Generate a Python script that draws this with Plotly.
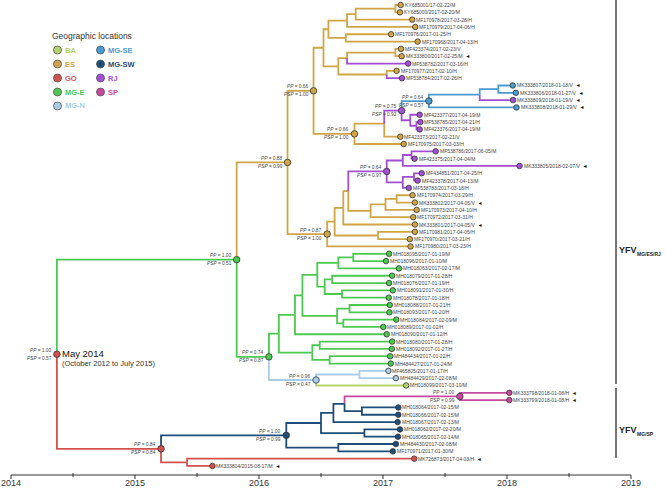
import plotly.graph_objects as go
import datetime as dt

W, H = 666, 488
FONT = "Liberation Sans, Arial, sans-serif"

LOC_COLORS = {"BA": "#B5D36A", "ES": "#CFA545", "GO": "#D2504E", "MG-E": "#4CC950",
              "MG-N": "#A9CDE7", "MG-SE": "#4A9BD0", "MG-SW": "#1E4D78",
              "RJ": "#A24FD4", "SP": "#C64A9E"}
legend_col1 = ["BA", "ES", "GO", "MG-E", "MG-N"]
legend_col2 = ["MG-SE", "MG-SW", "RJ", "SP"]

# ---------------- tips (top to bottom) ----------------
tip_labels = [
    "KY685001/17-02-22/M", "KY685000/2017-02-20/M", "MF170978/2017-03-28/H", "MF170979/2017-04-06/H",
    "MF170976/2017-01-25/H", "MF170968/2017-04-13/H", "MF423374/2017-02-23/V", "MK333800/2017-02-25/M",
    "MF538782/2017-03-16/H", "MF170977/2017-02-10/H", "MF538784/2017-02-26/H", "MK333807/2018-01-18/V",
    "MK333806/2018-01-27/V", "MK333809/2018-01-19/V", "MK333808/2018-01-29/V", "MF423377/2017-04-19/M",
    "MF538785/2017-04-21/H", "MF423376/2017-04-19/M", "MF423373/2017-02-21/V", "MF170975/2017-03-03/H",
    "MF538786/2017-06-05/M", "MF423375/2017-04-04/M", "MK333805/2018-02-07/V", "MF434851/2017-04-25/H",
    "MF423378/2017-04-13/M", "MF538783/2017-03-18/H", "MF170974/2017-03-29/H", "MK333802/2017-04-05/V",
    "MF170973/2017-04-10/H", "MF170972/2017-03-31/H", "MK333801/2017-04-05/V", "MF170981/2017-04-05/H",
    "MF170970/2017-03-21/H", "MF170980/2017-03-23/H",
    "MH018095/2017-01-19/M", "MH018096/2017-01-10/M", "MH018063/2017-02-17/M", "MH018079/2017-01-28/H",
    "MH018076/2017-01-19/H", "MH018091/2017-01-30/H", "MH018078/2017-01-18/H", "MH018088/2017-01-21/H",
    "MH018093/2017-01-20/H", "MH018084/2017-02-09/M", "MH018089/2017-01-02/H", "MH018090/2017-01-12/H",
    "MH018080/2017-01-28/H", "MH018092/2017-01-27/H", "MH484434/2017-01-22/H", "MH484427/2017-01-24/M",
    "MF465805/2017-01-17/H", "MH484429/2017-02-08/M", "MH018099/2017-03-10/M",
    "MK333798/2018-01-08/H", "MK333799/2018-01-08/H",
    "MH018064/2017-02-15/M", "MH018066/2017-02-15/M", "MH018067/2017-02-13/M", "MH018062/2017-02-20/M",
    "MH018065/2017-02-14/M", "MH484430/2017-02-08/M", "MF170971/2017-01-30/M",
    "MK726873/2017-04-03/H", "MK333804/2015-08-17/M",
]
tip_dates = [
    "2017-02-22", "2017-02-20", "2017-03-28", "2017-04-06", "2017-01-25", "2017-04-13", "2017-02-23",
    "2017-02-25", "2017-03-16", "2017-02-10", "2017-02-26", "2018-01-18", "2018-01-27", "2018-01-19",
    "2018-01-29", "2017-04-19", "2017-04-21", "2017-04-19", "2017-02-21", "2017-03-03", "2017-06-05",
    "2017-04-04", "2018-02-07", "2017-04-25", "2017-04-13", "2017-03-18", "2017-03-29", "2017-04-05",
    "2017-04-10", "2017-03-31", "2017-04-05", "2017-04-05", "2017-03-21", "2017-03-23",
    "2017-01-19", "2017-01-10", "2017-02-17", "2017-01-28", "2017-01-19", "2017-01-30", "2017-01-18",
    "2017-01-21", "2017-01-20", "2017-02-09", "2017-01-02", "2017-01-12", "2017-01-28", "2017-01-27",
    "2017-01-22", "2017-01-24", "2017-01-17", "2017-02-08", "2017-03-10", "2018-01-08", "2018-01-08",
    "2017-02-15", "2017-02-15", "2017-02-13", "2017-02-20", "2017-02-14", "2017-02-08", "2017-01-30",
    "2017-04-03", "2015-08-17",
]
tip_locs = (["ES"] * 8 + ["RJ", "ES", "RJ", "MG-SE", "MG-SE", "RJ", "MG-SE", "RJ", "RJ", "RJ", "ES", "ES"]
            + ["RJ"] * 6 + ["ES"] * 8 + ["MG-E"] * 16 + ["MG-N", "MG-N", "BA", "SP", "SP"]
            + ["MG-SW"] * 7 + ["GO", "GO"])
tip_new = [8, 12, 13, 14, 15, 23, 28, 31, 54, 55, 63, 64]  # 1-based tips marked with an arrowhead
tip_parent = [
    "E6", "E6", "E5", "E4", "E7", "E7", "E10", "E10", "E9", "E11", "E11", "S3", "S3", "S2", "S1",
    "R2", "R3", "R3", "E13", "E12", "R6", "R6", "R5", "R8", "R8", "R7", "E20", "E20", "E19", "E18",
    "E16", "E21", "E21", "E14",
    "G6", "G6", "G5", "G8", "G8", "G8b", "G8b", "G10", "G10", "G11", "G11", "G2", "G13", "G13",
    "G14", "G14", "N2", "N2", "N1", "P1", "P1", "W5", "W5", "W3", "W6", "W6", "W7", "W7", "O2", "O2",
]

# ---------------- internal nodes ----------------
node_ids = ["root", "A", "ESRJ", "E1", "E2", "E3", "E4", "E5", "E6", "E7", "E8", "E9", "E10", "E11",
            "E12", "E13", "R1", "S1", "S2", "S3", "R2", "R3", "E14", "E15", "E16", "E17", "R4", "R5",
            "R6", "R7", "R8", "E18", "E19", "E20", "E21",
            "G0", "G1", "G2", "G3", "G4", "G5", "G6", "G7", "G8", "G8b", "G9", "G10", "G11", "G12",
            "G13", "G14", "N1", "N2",
            "O1", "O2", "W1", "W2", "W3", "W4", "P1", "W5", "W6", "W7"]
node_parent = [None, "root", "A", "ESRJ", "E1", "E2", "E3", "E4", "E5", "E3", "E2", "E8", "E9", "E8",
               "E1", "E12", "E13", "R1", "S1", "S2", "R1", "R2", "ESRJ", "E14", "E15", "E16", "E17", "R4",
               "R5", "R4", "R7", "E17", "E18", "E19", "E15",
               "A", "G0", "G1", "G2", "G3", "G4", "G5", "G4", "G7", "G7", "G3", "G9", "G9", "G1",
               "G12", "G12", "G0", "N1",
               "root", "O1", "O1", "W1", "W2", "W3", "W4", "W4", "W2", "W1"]
node_years = [2014.37, 2015.82, 2016.23, 2016.44, 2016.52, 2016.56, 2016.71, 2016.78, 2017.10, 2016.70,
              2016.64, 2016.71, 2017.10, 2017.03, 2016.77, 2017.01, 2017.15, 2017.37, 2017.78, 2017.93,
              2017.22, 2017.27, 2016.55, 2016.61, 2016.68, 2016.72, 2017.03, 2017.16, 2017.23, 2017.16,
              2017.25, 2016.90, 2017.02, 2017.11, 2016.96,
              2016.08, 2016.16, 2016.29, 2016.35, 2016.47, 2016.64, 2016.76, 2016.53, 2016.59, 2016.67,
              2016.63, 2016.73, 2016.68, 2016.43, 2016.49, 2016.57, 2016.46, 2016.81,
              2015.21, 2015.42, 2016.22, 2016.50, 2016.60, 2016.69, 2017.62, 2016.83, 2016.85, 2016.64]
node_locs = (["GO", "MG-E"] + ["ES"] * 14 + ["RJ", "MG-SE", "MG-SE", "MG-SE", "RJ", "RJ"]
             + ["ES"] * 4 + ["RJ"] * 5 + ["ES"] * 4 + ["MG-E"] * 16 + ["MG-N", "MG-N"]
             + ["GO", "GO", "MG-SW", "MG-SW", "MG-SW", "MG-SW", "SP", "MG-SW", "MG-SW", "MG-SW"])
support_nodes = ["root", "A", "ESRJ", "E1", "E12", "R1", "S1", "E14", "R4", "G0", "N1", "O1", "W1", "P1"]
support_pp = ["1.00", "1.00", "0.88", "0.66", "0.66", "0.75", "0.64", "0.87", "0.64", "0.74", "0.96",
              "0.84", "1.00", "1.00"]
support_psp = ["0.57", "0.51", "0.99", "1.00", "1.00", "0.92", "0.57", "1.00", "0.97", "0.87", "0.47",
               "0.84", "0.99", "0.99"]

year_ticks = [2014, 2015, 2016, 2017, 2018, 2019]
half_ticks = [2014.5, 2015.5, 2016.5, 2017.5, 2018.5]


def dec_year(s):
    d = dt.date.fromisoformat(s)
    a, b = dt.date(d.year, 1, 1), dt.date(d.year + 1, 1, 1)
    return d.year + (d - a).days / (b - a).days


# ---------------- build tree ----------------
X, Y, LOC, PAR = {}, {}, {}, {}
children = {}
for i, lab in enumerate(tip_labels):
    k = f"t{i}"
    X[k] = dec_year(tip_dates[i]); Y[k] = i; LOC[k] = tip_locs[i]; PAR[k] = tip_parent[i]
    children.setdefault(tip_parent[i], []).append(k)
for nid, p, yr, lc in zip(node_ids, node_parent, node_years, node_locs):
    X[nid] = yr; LOC[nid] = lc; PAR[nid] = p
    if p is not None:
        children.setdefault(p, []).append(nid)


def get_y(k):
    if k not in Y:
        ys = [get_y(c) for c in children[k]]
        Y[k] = (min(ys) + max(ys)) / 2
    return Y[k]


get_y("root")

PX_PER_YEAR = 124.0
x_left = 2014 - 11 / PX_PER_YEAR
x_right = x_left + W / PX_PER_YEAR
ROW = 7.317
y_top = -5 / ROW
y_bot = (H - 5) / ROW

fig = go.Figure()

segs = {}
for k, p in PAR.items():
    if p is None:
        continue
    c = LOC_COLORS[LOC[k]]
    sx, sy = segs.setdefault(c, ([], []))
    sx += [X[p], X[p], X[k], None]
    sy += [Y[p], Y[k], Y[k], None]
for c, (sx, sy) in segs.items():
    fig.add_trace(go.Scatter(x=sx, y=sy, mode="lines", line=dict(color=c, width=1.8),
                             hoverinfo="skip", showlegend=False))

tk = [f"t{i}" for i in range(len(tip_labels))]
fig.add_trace(go.Scatter(x=[X[k] for k in tk], y=[Y[k] for k in tk], mode="markers",
                         marker=dict(size=5.5, color=[LOC_COLORS[LOC[k]] for k in tk],
                                     line=dict(color="#333333", width=0.8)),
                         hoverinfo="skip", showlegend=False))
fig.add_trace(go.Scatter(x=[X[k] for k in support_nodes], y=[Y[k] for k in support_nodes], mode="markers",
                         marker=dict(size=6.5, color=[LOC_COLORS[LOC[k]] for k in support_nodes],
                                     line=dict(color="#333333", width=0.8)),
                         hoverinfo="skip", showlegend=False))

ann = []
for i, k in enumerate(tk):
    txt = tip_labels[i]
    if (i + 1) in tip_new:
        txt += "\u2002<span style='color:#111111'>\u25C4</span>"
    ann.append(dict(x=X[k], y=Y[k], xref="x", yref="y", text=txt, showarrow=False,
                    xanchor="left", yanchor="middle", xshift=3, borderpad=0,
                    font=dict(family=FONT, size=5, color="#444444")))
for nid, pp, psp in zip(support_nodes, support_pp, support_psp):
    ann.append(dict(x=X[nid], y=Y[nid], xref="x", yref="y", text=f"<i>PP</i> = {pp}", showarrow=False,
                    xanchor="right", yanchor="middle", xshift=-4, yshift=4, borderpad=0,
                    font=dict(family=FONT, size=4.8, color="#444444")))
    ann.append(dict(x=X[nid], y=Y[nid], xref="x", yref="y", text=f"<i>PSP</i> = {psp}", showarrow=False,
                    xanchor="right", yanchor="middle", xshift=-4, yshift=-4, borderpad=0,
                    font=dict(family=FONT, size=4.8, color="#444444")))
ann.append(dict(x=X["root"], y=Y["root"], xref="x", yref="y", text="May 2014", showarrow=False,
                xanchor="left", yanchor="middle", xshift=4, yshift=1, borderpad=0,
                font=dict(family=FONT, size=9.5, color="#111111")))
ann.append(dict(x=X["root"], y=Y["root"], xref="x", yref="y", text="(October 2012 to July 2015)",
                showarrow=False, xanchor="left", yanchor="middle", xshift=4, yshift=-9, borderpad=0,
                font=dict(family=FONT, size=7.5, color="#333333")))

shapes = []
ax_y = 1 - 475 / H
shapes.append(dict(type="line", xref="x", yref="paper", x0=year_ticks[0], x1=year_ticks[-1],
                   y0=ax_y, y1=ax_y, line=dict(color="#333333", width=1)))
for t in year_ticks:
    shapes.append(dict(type="line", xref="x", yref="paper", x0=t, x1=t, y0=ax_y, y1=ax_y - 4 / H,
                       line=dict(color="#333333", width=1)))
    ann.append(dict(x=t, y=1 - 482.5 / H, xref="x", yref="paper", text=str(t), showarrow=False,
                    xanchor="center", yanchor="middle", borderpad=0,
                    font=dict(family=FONT, size=9, color="#333333")))
for t in half_ticks:
    shapes.append(dict(type="line", xref="x", yref="paper", x0=t, x1=t, y0=ax_y + 2 / H, y1=ax_y - 2 / H,
                       line=dict(color="#333333", width=1)))

for (ya, yb, sub, yl) in [(0, 384, "MG/ES/RJ", 250), (388, 458, "MG/SP", 430)]:
    shapes.append(dict(type="line", xref="paper", yref="paper", x0=616 / W, x1=616 / W,
                       y0=1 - ya / H, y1=1 - yb / H, line=dict(color="#777777", width=2)))
    ann.append(dict(x=618 / W, y=1 - yl / H, xref="paper", yref="paper", text="<b>YFV</b>",
                    showarrow=False, xanchor="left", yanchor="middle", borderpad=0,
                    font=dict(family=FONT, size=9, color="#222222")))
    ann.append(dict(x=635.5 / W, y=1 - (yl + 4) / H, xref="paper", yref="paper", text=f"<b>{sub}</b>",
                    showarrow=False, xanchor="left", yanchor="middle", borderpad=0,
                    font=dict(family=FONT, size=5, color="#222222")))

ann.append(dict(x=51 / W, y=1 - 36 / H, xref="paper", yref="paper", text="Geographic locations",
                showarrow=False, xanchor="left", yanchor="middle", borderpad=0,
                font=dict(family=FONT, size=8.5, color="#333333")))
for col, (cx, names) in enumerate([(57.5, legend_col1), (100.5, legend_col2)]):
    for r, nm in enumerate(names):
        cy = 50 + 14 * r
        shapes.append(dict(type="circle", xref="paper", yref="paper", xsizemode="pixel", ysizemode="pixel",
                           xanchor=cx / W, yanchor=1 - cy / H, x0=-4, x1=4, y0=-4, y1=4,
                           fillcolor=LOC_COLORS[nm], line=dict(color="#555555", width=0.8)))
        ann.append(dict(x=(cx + 6) / W, y=1 - cy / H, xref="paper", yref="paper", text=f"<b>{nm}</b>",
                        showarrow=False, xanchor="left", yanchor="middle", borderpad=0,
                        font=dict(family=FONT, size=7.5, color=LOC_COLORS[nm])))

fig.update_layout(
    width=W, height=H, margin=dict(l=0, r=0, t=0, b=0),
    paper_bgcolor="white", plot_bgcolor="white",
    xaxis=dict(range=[x_left, x_right], visible=False),
    yaxis=dict(range=[y_bot, y_top], visible=False),
    annotations=ann, shapes=shapes, showlegend=False,
)
fig.write_html("out.html", config={"displayModeBar": False},
               post_script="document.body.style.margin='0px';document.body.style.overflow='hidden';")
